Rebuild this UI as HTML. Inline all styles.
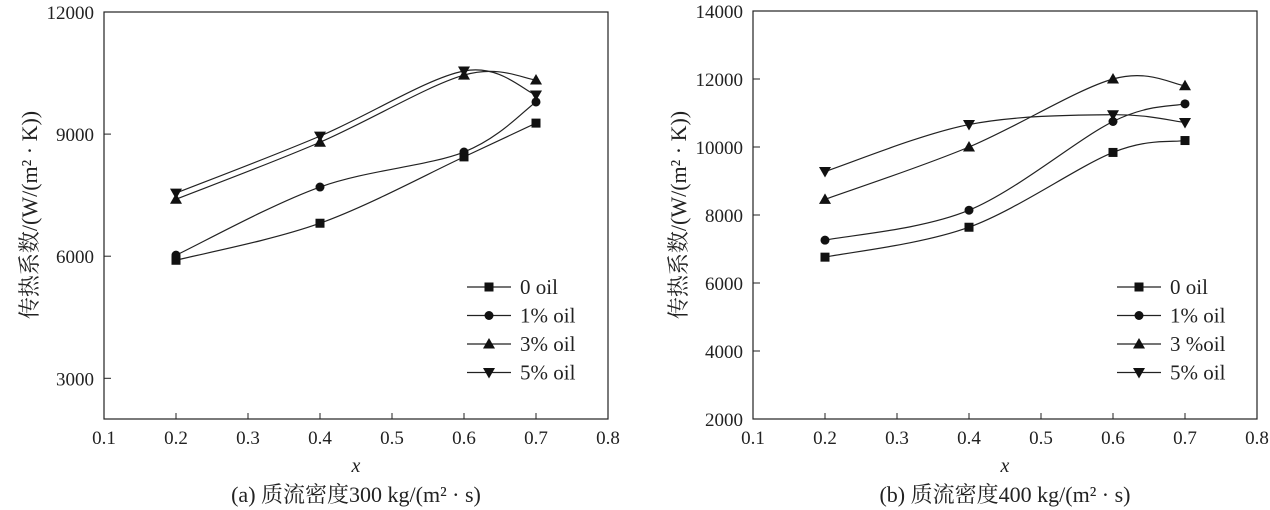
<!DOCTYPE html>
<html><head><meta charset="utf-8"><style>
html,body{margin:0;padding:0;background:#fff;}
svg{display:block;font-family:"Liberation Serif","Noto Serif CJK SC",serif;}
</style></head><body>
<svg id="fig" width="1270" height="510" viewBox="0 0 1270 510"></svg>
<script>
const xTicks=[0.1,0.2,0.3,0.4,0.5,0.6,0.7,0.8];
const xs=[0.2,0.4,0.6,0.7];
const seriesNames=["0 oil","1% oil","3% oil","5% oil"];
const seriesNamesB=["0 oil","1% oil","3 %oil","5% oil"];
const markers=["square","circle","up","down"];
const yTicksA=[3000,6000,9000,12000];
const a0=[5900,6810,8440,9270];
const a1=[6025,7700,8560,9790];
const a3=[7400,8800,10450,10330];
const a5=[7550,8950,10550,9960];
const yTicksB=[2000,4000,6000,8000,10000,12000,14000];
const b0=[6760,7640,9840,10190];
const b1=[7260,8140,10750,11270];
const b3=[8460,10000,12000,11800];
const b5=[9280,10660,10950,10720];

const NS="http://www.w3.org/2000/svg";
const svg=document.getElementById('fig');
function mk(t,at,parent){const e=document.createElementNS(NS,t);for(const k in at)e.setAttribute(k,at[k]);(parent||svg).appendChild(e);return e;}

function marker(g,type,x,y){
  let e;
  if(type==="square")e=mk('rect',{x:x-4.5,y:y-4.5,width:9,height:9,fill:'#111'},g);
  else if(type==="circle")e=mk('circle',{cx:x,cy:y,r:4.5,fill:'#111'},g);
  else if(type==="up")e=mk('polygon',{points:`${x},${y-6} ${x-6},${y+4.5} ${x+6},${y+4.5}`,fill:'#111'},g);
  else e=mk('polygon',{points:`${x},${y+6} ${x-6},${y-4.5} ${x+6},${y-4.5}`,fill:'#111'},g);
  return e;
}
function smooth(pts){
  let d=`M${pts[0][0]},${pts[0][1]}`;
  for(let i=0;i<pts.length-1;i++){
    const p0=pts[Math.max(0,i-1)],p1=pts[i],p2=pts[i+1],p3=pts[Math.min(pts.length-1,i+2)];
    const c1=[p1[0]+(p2[0]-p0[0])/6,p1[1]+(p2[1]-p0[1])/6];
    const c2=[p2[0]-(p3[0]-p1[0])/6,p2[1]-(p3[1]-p1[1])/6];
    d+=` C${c1[0]},${c1[1]} ${c2[0]},${c2[1]} ${p2[0]},${p2[1]}`;
  }
  return d;
}
function panel(o){
  const g=mk('g',{});
  
  
  const X=v=>o.x0+(v-0.1)/0.7*(o.x1-o.x0);
  const Y=v=>o.y1-(v-o.ymin)/(o.ymax-o.ymin)*(o.y1-o.y0);
  const fr=mk('rect',{x:o.x0,y:o.y0,width:o.x1-o.x0,height:o.y1-o.y0,fill:'none',stroke:'#222','stroke-width':1.2},g);
  
  xTicks.forEach(t=>{
    const x=X(t);
    const l=mk('line',{x1:x,y1:o.y1,x2:x,y2:o.y1-6,stroke:'#222','stroke-width':1},g);
    
    const tx=mk('text',{x:x,y:444,'text-anchor':'middle','font-size':19,fill:'#222'},g);
    tx.textContent=t.toFixed(1);
    
  });
  o.yTicks.forEach(t=>{
    const y=Y(t);
    const l=mk('line',{x1:o.x0,y1:y,x2:o.x0+7,y2:y,stroke:'#222','stroke-width':1},g);
    
    const tx=mk('text',{x:o.x0-10,y:y+7,'text-anchor':'end','font-size':19,fill:'#222'},g);
    tx.textContent=t;
    
  });
  o.series.forEach((s,i)=>{
    const pts=xs.map((xv,j)=>[X(xv),Y(s[j])]);
    const p=mk('path',{d:smooth(pts),fill:'none',stroke:'#222','stroke-width':1.2},g);
    
    pts.forEach(q=>{const m=marker(g,markers[i],q[0],q[1]);
      });
    const ly=287+i*28.5;
    const ll=mk('line',{x1:o.lx,y1:ly,x2:o.lx+44,y2:ly,stroke:'#222','stroke-width':1.2},g);
    
    const lm=marker(g,markers[i],o.lx+22,ly);
    
    const lt=mk('text',{x:o.lx+53,y:ly+7,'font-size':21,fill:'#222'},g);
    lt.textContent=o.names[i];
    
  });
  const cx=(o.x0+o.x1)/2;
  const xl=mk('text',{x:cx,y:472,'text-anchor':'middle','font-size':20,'font-style':'italic',fill:'#222'},g);
  xl.textContent='x';
  const yl=mk('text',{x:0,y:0,'text-anchor':'middle','font-size':22,fill:'#222',transform:`translate(${o.x0-67},215) rotate(-90)`},g);
  yl.textContent='传热系数/(W/(m² · K))';
  
  const cp=mk('text',{x:cx,y:502,'text-anchor':'middle','font-size':22,fill:'#222'},g);
  cp.textContent=o.caption;
  
}
panel({name:'chart-a',x0:104,x1:608,y0:12,y1:419,ymin:2000,ymax:12000,yTicks:yTicksA,series:[a0,a1,a3,a5],names:seriesNames,lx:467,caption:'(a) 质流密度300 kg/(m² · s)'});
panel({name:'chart-b',x0:753,x1:1257,y0:11,y1:419,ymin:2000,ymax:14000,yTicks:yTicksB,series:[b0,b1,b3,b5],names:seriesNamesB,lx:1117,caption:'(b) 质流密度400 kg/(m² · s)'});
</script>
</body></html>
